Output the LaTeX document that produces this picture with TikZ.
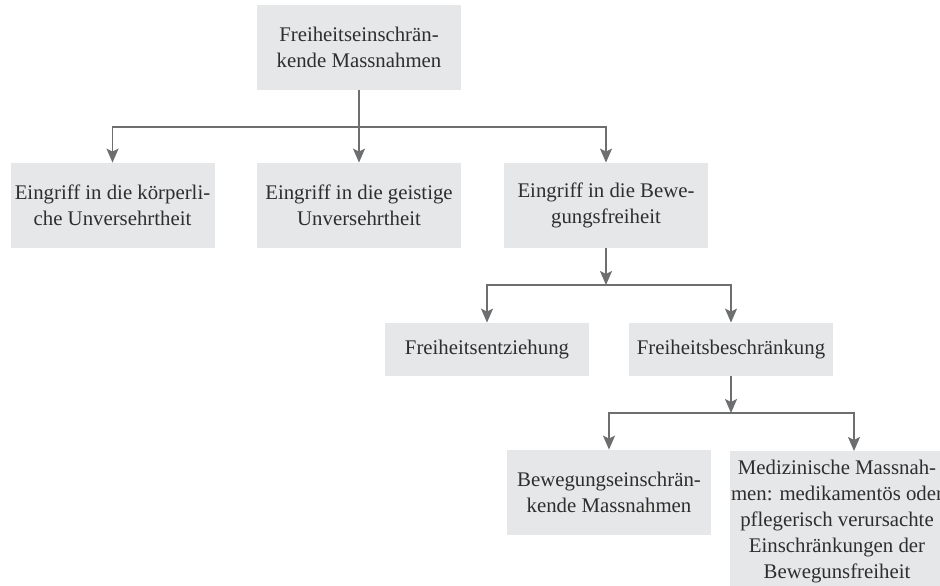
\documentclass[tikz,border=0pt]{standalone}
\usepackage{fontspec}
\setmainfont{Liberation Serif}
\usetikzlibrary{arrows.meta}
\definecolor{boxgray}{HTML}{E6E7E8}
\definecolor{linegray}{HTML}{6D6E70}
\definecolor{textgray}{HTML}{2E2E2E}

\begin{document}
\begin{tikzpicture}[x=0.5pt, y=-0.5pt,
    box/.style={fill=boxgray, text=textgray, align=center, inner sep=0pt,
        minimum width=102pt, minimum height=42.5pt,
        font=\fontsize{10.4}{13}\selectfont},
    smallbox/.style={box, minimum height=26.5pt},
    link/.style={draw=linegray, line width=0.9pt},
    arr/.style={link, -{Stealth[length=7pt, width=6pt, inset=1.5pt]}}]
    \useasboundingbox (0,0) rectangle (940,585);

    % boxes
    \node[box] (massn) at (359,47.5) {Freiheitseinschrän-\\kende Massnahmen};
    \node[box] (koerper) at (112.5,205.5) {Eingriff in die körperli-\\che Unversehrtheit};
    \node[box] (geist) at (359,205.5) {Eingriff in die geistige\\Unversehrtheit};
    \node[box] (beweg) at (606,205.5) {Eingriff in die Bewe-\\gungsfreiheit};
    \node[smallbox] (entz) at (487,349.5) {Freiheitsentziehung};
    \node[smallbox] (beschr) at (731,349.5) {Freiheitsbeschränkung};
    \node[box] (bewein) at (609,492.5) {Bewegungseinschrän-\\kende Massnahmen};
    \node[box, anchor=north, minimum width=107pt, minimum height=70.5pt] (medi) at (837,451)
        {Medizinische Massnah-\\men: medikamentös oder\\pflegerisch verursachte\\Einschränkungen der\\Bewegunsfreiheit};

    % branch points
    \coordinate (split1) at (359,127);
    \coordinate (split2) at (606,285);
    \coordinate (split3) at (731,413);

    \draw[link] (massn) -- (split1);
    \draw[arr] (split1) -| (koerper);
    \draw[arr] (split1) -- (geist);
    \draw[arr] (split1) -| (beweg);

    \draw[arr] (beweg) -- (split2);
    \draw[arr] (split2) -| (entz);
    \draw[arr] (split2) -| (beschr);

    \draw[arr] (beschr) -- (split3);
    \draw[arr] (split3) -| (bewein);
    \draw[arr] (split3) -| ([xshift=8.5pt]medi.north);
\end{tikzpicture}
\end{document}
